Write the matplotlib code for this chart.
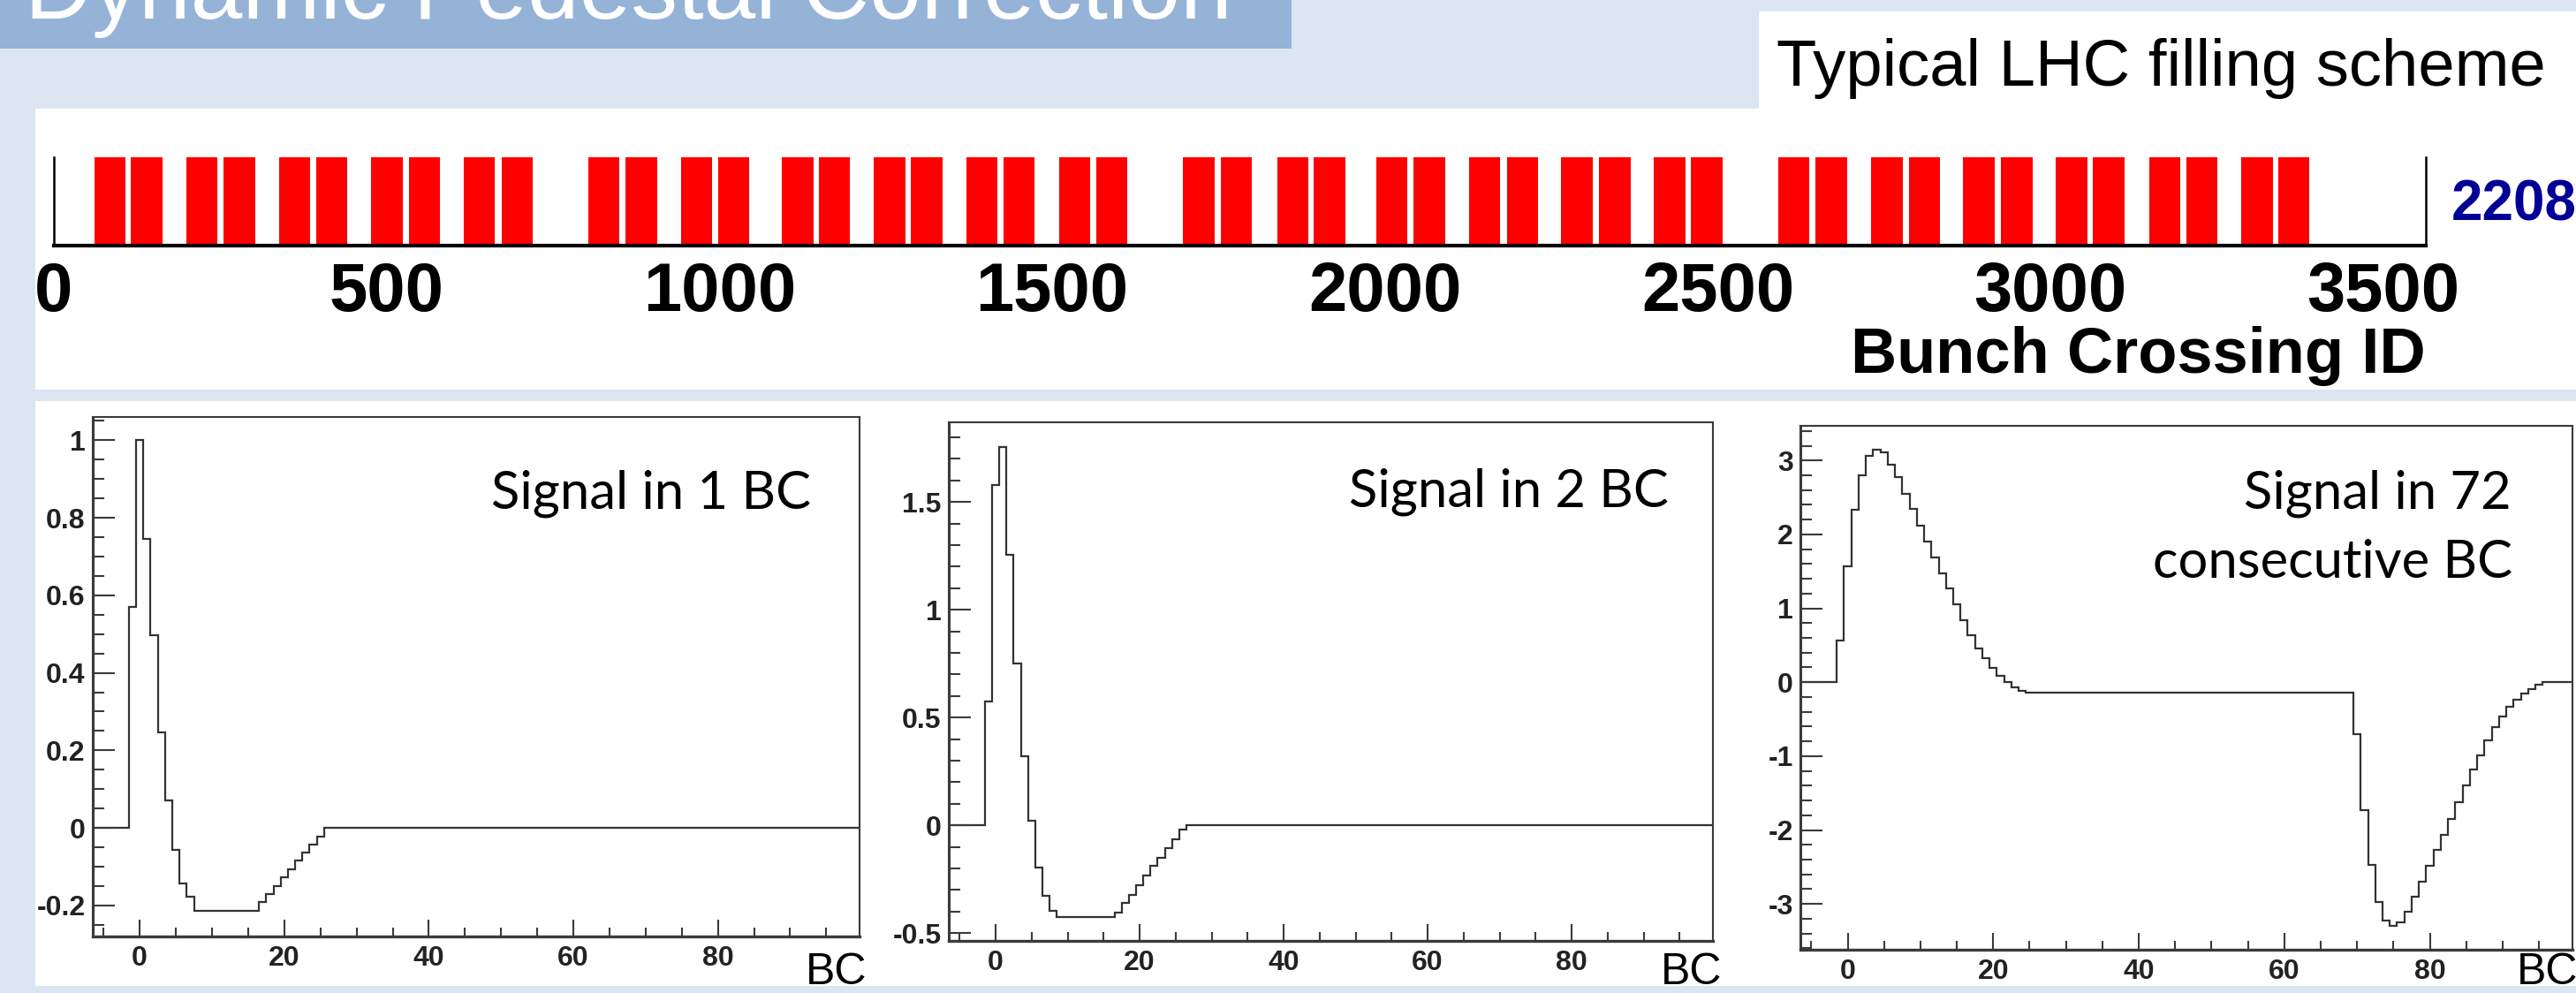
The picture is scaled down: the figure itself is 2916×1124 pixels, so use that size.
import numpy as np
import matplotlib
matplotlib.use("Agg")
import matplotlib.pyplot as plt
from matplotlib.patches import Rectangle
from matplotlib.ticker import MultipleLocator, FuncFormatter

plt.rcParams['font.family'] = ['Liberation Sans', 'DejaVu Sans']

# --- filling scheme: first BC of each bunch train -------------------------
train_starts = [61, 116, 199, 255, 338, 394, 477, 533, 616, 673,
                803, 859, 942, 998, 1094, 1149, 1232, 1288, 1371, 1427, 1510, 1566,
                1697, 1753, 1838, 1893, 1987, 2043, 2126, 2183, 2265, 2322, 2404, 2460,
                2591, 2647, 2731, 2787, 2869, 2926, 3008, 3064, 3148, 3204, 3287, 3342]
train_length = 47
orbit_bcs = 3564
bc_ticks = [0, 500, 1000, 1500, 2000, 2500, 3000, 3500]
n_bunches = "2208"

# --- pulse response histograms (bin edges in BC, value per bin) ----------
sig1_edges = np.concatenate([[-7], np.arange(-1.5, 8.0, 1.0), np.arange(16.5, 26.0, 1.0), [101]])
sig1_values = [0, 0.570, 1.000, 0.746, 0.497, 0.246, 0.070, -0.057, -0.143, -0.178,
               -0.215,
               -0.191, -0.170, -0.150, -0.128, -0.107, -0.084, -0.063, -0.043, -0.022,
               0]

sig2_edges = np.concatenate([[-7], np.arange(-1.5, 9.0, 1.0), np.arange(16.5, 27.0, 1.0), [101]])
sig2_values = [0, 0.576, 1.579, 1.757, 1.255, 0.753, 0.322, 0.020, -0.196, -0.325, -0.395,
               -0.427,
               -0.403, -0.361, -0.322, -0.278, -0.232, -0.188, -0.149, -0.107, -0.063, -0.019,
               0]

sig72_edges = np.concatenate([[-7], np.arange(-1.5, 25.0, 1.0), np.arange(69.5, 96.0, 1.0), [101]])
sig72_values = [0,
                0.563, 1.572, 2.335, 2.805, 3.065, 3.153, 3.107, 2.944, 2.772, 2.549,
                2.344, 2.121, 1.902, 1.693, 1.479, 1.270, 1.051, 0.842, 0.642, 0.460,
                0.321, 0.191, 0.088, 0.005, -0.065, -0.112,
                -0.135,
                -0.702, -1.726, -2.470, -2.972, -3.228, -3.298, -3.251, -3.102, -2.902, -2.702,
                -2.484, -2.274, -2.065, -1.856, -1.623, -1.400, -1.181, -0.986, -0.781, -0.609,
                -0.460, -0.335, -0.233, -0.149, -0.088, -0.028,
                0]

W, H = 2916, 1124
BG = '#DCE6F2'


def frac(l, t, r, b):
    return [l / W, 1 - b / H, (r - l) / W, (b - t) / H]


def add_rect(l, t, r, b, color, z=-1):
    fig.add_artist(Rectangle((l / W, 1 - b / H), (r - l) / W, (b - t) / H,
                             transform=fig.transFigure, facecolor=color,
                             edgecolor='none', zorder=z))


def put(x, y, s, **kw):
    fig.text(x / W, 1 - y / H, s, va='baseline', **kw)


fig = plt.figure(figsize=(W / 100, H / 100), dpi=100)
fig.patch.set_facecolor(BG)

# slide background blocks
add_rect(0, 0, 1462, 55, '#95B3D7')
add_rect(1991, 13, W, 123, 'white')
add_rect(40, 123, W, 441, 'white')
add_rect(40, 454, W, 1116, 'white')

put(28, 21, "Dynamic Pedestal Correction", color='white', fontsize=76)
put(2011, 97, "Typical LHC filling scheme", color='black', fontsize=53.5)

# --- filling scheme bar chart --------------------------------------------
ax = fig.add_axes(frac(61, 178, 2746, 278))
ax.set_facecolor('none')
ax.bar(train_starts, 1, width=train_length, align='edge', color='#FF0000', lw=0)
ax.set_xlim(0, orbit_bcs)
ax.set_ylim(0, 1)
ax.spines['top'].set_visible(False)
ax.spines['left'].set_linewidth(1.8)
ax.spines['right'].set_linewidth(1.8)
ax.spines['bottom'].set_linewidth(3)
ax.set_yticks([])
ax.set_xticks(bc_ticks)
ax.tick_params(axis='x', length=0, pad=12, labelsize=56)
plt.setp(ax.get_xticklabels(), fontweight='bold')

put(2746, 422, "Bunch Crossing ID", ha='right', fontsize=52, fontweight='bold')
put(2775, 250, n_bunches, color='#000096', fontsize=46, fontweight='bold')

# --- pulse shape panels ---------------------------------------------------
panels = [
    dict(box=(105, 472, 973, 1060), edges=sig1_edges, values=sig1_values,
         ylim=(-0.28, 1.06), major=0.2, minor=0.05,
         labels=[("Signal in 1 BC", 918, 575)], bc_x=912),
    dict(box=(1074, 478, 1939, 1065), edges=sig2_edges, values=sig2_values,
         ylim=(-0.536, 1.87), major=0.5, minor=0.1,
         labels=[("Signal in 2 BC", 1889, 573)], bc_x=1880),
    dict(box=(2038, 482, 2912, 1075), edges=sig72_edges, values=sig72_values,
         ylim=(-3.62, 3.47), major=1, minor=0.2,
         labels=[("Signal in 72", 2843, 575), ("consecutive BC", 2844, 654)], bc_x=2849),
]

fmt = FuncFormatter(lambda v, p: f"{round(v, 3) + 0.0:g}")
for p in panels:
    a = fig.add_axes(frac(*p['box']))
    a.set_facecolor('none')
    a.stairs(p['values'], p['edges'], baseline=None, color='#333333', lw=1.6)
    a.set_xlim(-6.5, 99.6)
    a.set_ylim(*p['ylim'])
    a.xaxis.set_major_locator(MultipleLocator(20))
    a.xaxis.set_minor_locator(MultipleLocator(5))
    a.yaxis.set_major_locator(MultipleLocator(p['major']))
    a.yaxis.set_minor_locator(MultipleLocator(p['minor']))
    a.xaxis.set_major_formatter(fmt)
    a.yaxis.set_major_formatter(fmt)
    for side, lw in [('left', 2.2), ('bottom', 2.4), ('top', 1.5), ('right', 1.5)]:
        a.spines[side].set_linewidth(lw)
        a.spines[side].set_color('#3a3a3a')
    a.tick_params(axis='y', which='major', direction='in', length=18, width=1.5,
                  pad=6, labelsize=23, color='#3a3a3a', labelcolor='#222222')
    a.tick_params(axis='y', which='minor', direction='in', length=9.5, width=1.5,
                  color='#3a3a3a')
    a.tick_params(axis='x', which='major', direction='in', length=14, width=1.5,
                  pad=7, labelsize=23, color='#3a3a3a', labelcolor='#222222')
    a.tick_params(axis='x', which='minor', direction='in', length=7, width=1.5,
                  color='#3a3a3a')
    plt.setp(a.get_xticklabels() + a.get_yticklabels(), fontweight='bold')

    for txt, xr, yb in p['labels']:
        put(xr, yb, txt, ha='right', fontsize=43, family=['Lato', 'DejaVu Sans'])
    put(p['bc_x'], 1114, "BC", fontsize=36)

# bottom strip of the slide covers the lower edge of the panels
add_rect(0, 1116, W, H, BG, z=10)

fig.savefig("out.png", dpi=100, facecolor=fig.get_facecolor())
